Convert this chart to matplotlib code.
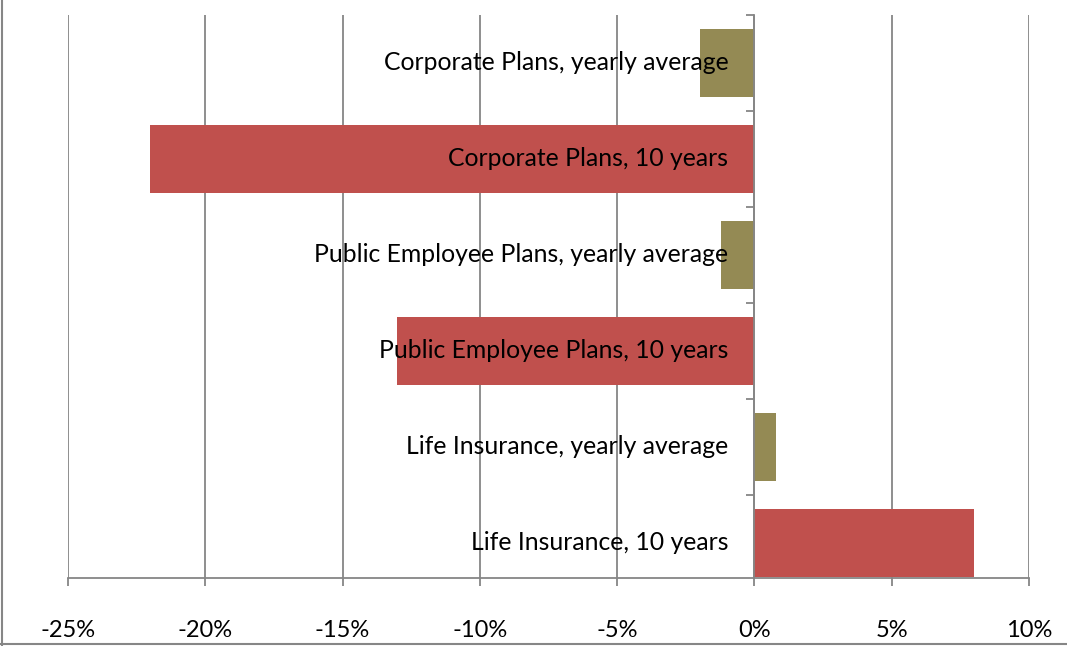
import matplotlib.pyplot as plt
import matplotlib.transforms as mtransforms
from matplotlib.lines import Line2D
from matplotlib.ticker import FuncFormatter

categories = [
    "Life Insurance, 10 years",
    "Life Insurance, yearly average",
    "Public Employee Plans, 10 years",
    "Public Employee Plans, yearly average",
    "Corporate Plans, 10 years",
    "Corporate Plans, yearly average",
]
values = [8.0, 0.8, -13.0, -1.2, -22.0, -2.0]
colors = ["#C0504D", "#948A54", "#C0504D", "#948A54", "#C0504D", "#948A54"]
x_ticks = [-25, -20, -15, -10, -5, 0, 5, 10]

plt.rcParams["font.family"] = ["Lato", "DejaVu Sans"]

W, H = 1067, 646
fig = plt.figure(figsize=(W / 100, H / 100), dpi=100)
ax = fig.add_axes([68 / W, 1 - 578 / H, (1029 - 68) / W, (578 - 15) / H])

grid_color = "#868686"
ypos = list(range(len(categories)))
ax.barh(ypos, values, height=0.708, color=colors, zorder=2)

ax.set_xlim(-25, 10)
n = len(categories)
ax.set_ylim(n - 0.5 - (578 - 15) / 96, n - 0.5)
ax.set_xticks(x_ticks)
ax.xaxis.set_major_formatter(FuncFormatter(lambda v, p: f"{v:.0f}%"))
ax.tick_params(axis="x", length=6, color=grid_color, width=1.3, labelsize=17, pad=24)
ax.grid(axis="x", color=grid_color, linewidth=1.3, zorder=0)
ax.set_axisbelow(True)

# category axis sits on zero, ticks at category boundaries
ax.spines["left"].set_position(("data", 0))
ax.spines["left"].set_color(grid_color)
ax.spines["left"].set_linewidth(1.3)
ax.spines["left"].set_zorder(3)
ax.spines["bottom"].set_color(grid_color)
ax.spines["bottom"].set_linewidth(1.3)
ax.spines["top"].set_visible(False)
ax.spines["right"].set_visible(False)
ax.set_yticks([y + 0.5 for y in ypos])
ax.set_yticklabels([])
ax.tick_params(axis="y", length=6, color=grid_color, width=1.3)

offset = mtransforms.ScaledTranslation(-26 / 100, 0, fig.dpi_scale_trans)
for y, label in zip(ypos, categories):
    ax.text(0, y, label, ha="right", va="center", fontsize=17.8, color="black",
            transform=ax.transData + offset, zorder=5)

# chart border
fig.add_artist(Line2D([2 / W, 2 / W], [0, 1], color=grid_color, lw=1.5))
fig.add_artist(Line2D([0, 1], [1 - 644 / H, 1 - 644 / H], color=grid_color, lw=1.5))

fig.savefig("out.png", dpi=100)
